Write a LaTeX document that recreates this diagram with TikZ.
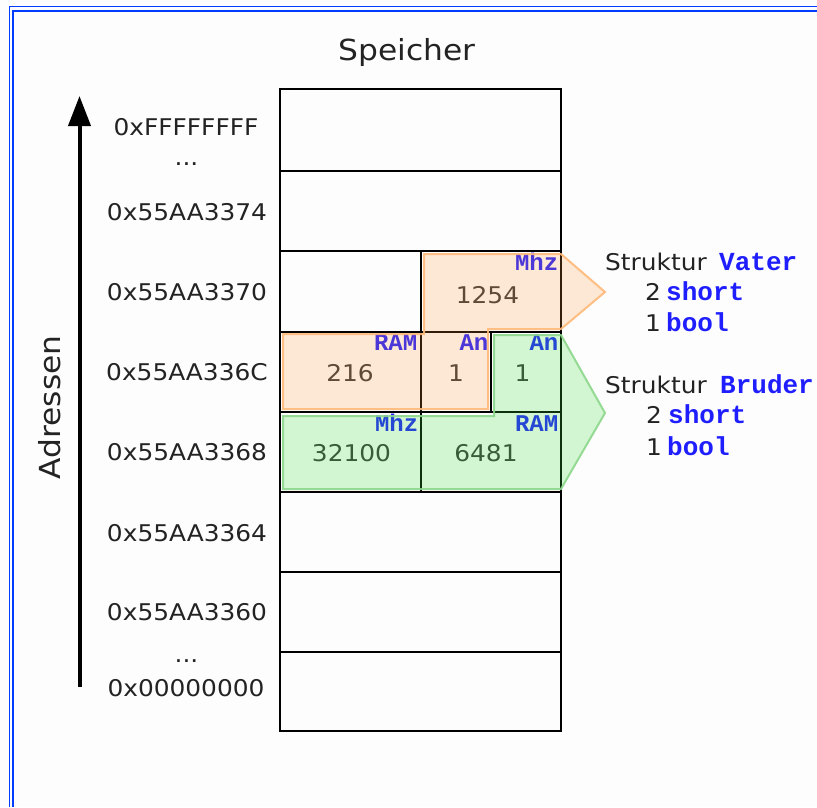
\documentclass[tikz,border=0pt]{standalone}
\usepackage{fontspec}
\usetikzlibrary{arrows.meta}
\newfontfamily\addrfont[FakeStretch=1.08]{DejaVu Sans}
\newfontfamily\monofont{Liberation Mono}
\definecolor{bordblue}{RGB}{0,60,255}
\definecolor{tblue}{RGB}{30,30,255}
\definecolor{txt}{RGB}{35,35,35}
\definecolor{valtxt}{RGB}{55,55,55}
\definecolor{vfill}{RGB}{255,150,60}
\definecolor{vline}{RGB}{255,185,120}
\definecolor{bfill}{RGB}{60,220,60}
\definecolor{bline}{RGB}{140,215,140}
\definecolor{bg}{RGB}{253,253,253}
\begin{document}
\begin{tikzpicture}[x=1pt,y=-1pt,
  addr/.style={inner sep=0pt,anchor=base,font=\addrfont\fontsize{23}{23}\selectfont,text=txt},
  big/.style={inner sep=0pt,anchor=base,font=\addrfont\fontsize{29}{29}\selectfont,text=txt},
  val/.style={inner sep=0pt,anchor=base,font=\addrfont\fontsize{23}{23}\selectfont,text=valtxt},
  fld/.style={inner sep=0pt,anchor=base east,font=\monofont\bfseries\fontsize{24}{24}\selectfont,text=tblue},
  typ/.style={inner sep=0pt,anchor=base west,font=\monofont\bfseries\fontsize{26}{26}\selectfont,text=tblue},
  lbl/.style={inner sep=0pt,anchor=base west,font=\addrfont\fontsize{23}{23}\selectfont,text=txt},
  grid/.style={line width=2pt,black},
  vater/.style={fill=vfill,fill opacity=0.2,draw=vline,draw opacity=0.9,line width=2pt,line join=miter},
  bruder/.style={fill=bfill,fill opacity=0.22,draw=bline,draw opacity=0.9,line width=2pt,line join=miter},
  axis/.style={line width=4pt,-{Triangle[width=22pt,length=30pt]}}
]
\useasboundingbox (0,0) rectangle (817,807);
\fill[bg] (0,0) rectangle (817,807);
% border
\draw[bordblue,line width=1.2pt] (9.5,807) -- (9.5,6.5) -- (817,6.5);
\draw[bordblue,line width=2.6pt] (13,807) -- (13,11) -- (817,11);

% title
\node[big] (title) at (407,60) {Speicher};

% memory grid
\draw[grid] (280,89) rectangle (561,730.5);
\foreach \yy in {170.5,251,331.5,412,492,572,652}
  \draw[grid] (280,\yy) -- (561,\yy);
\draw[grid] (421,251) -- (421,492);
\draw[grid] (491,331.5) -- (491,412);

% axis
\coordinate (abot) at (79.5,687);
\coordinate (atop) at (79.5,96);
\draw[axis] (abot) -- (atop);
\node[big,rotate=90] (adr) at (60,407.5) {Adressen};

% addresses
\node[addr] (a1) at (186,135.5) {0xFFFFFFFF};
\node[addr] (d1) at (186.5,165) {...};
\node[addr] (a2) at (187,220) {0x55AA3374};
\node[addr] (a3) at (187,300) {0x55AA3370};
\node[addr] (a4) at (187,380) {0x55AA336C};
\node[addr] (a5) at (187,460) {0x55AA3368};
\node[addr] (a6) at (187,541.5) {0x55AA3364};
\node[addr] (a7) at (187,620) {0x55AA3360};
\node[addr] (d2) at (186.5,662) {...};
\node[addr] (a8) at (186,696.5) {0x00000000};

% cell contents
\node[fld] (f1) at (558.5,270.7) {Mhz};
\node[val] (v1) at (487.5,303.3) {1254};
\node[fld] (f2) at (417.5,350) {RAM};
\node[val] (v2) at (350,381.7) {216};
\node[fld] (f3) at (488.5,350) {An};
\node[val] (v3) at (456,381.7) {1};
\node[fld] (f4) at (558.5,350) {An};
\node[val] (v4) at (522.5,381.7) {1};
\node[fld] (f5) at (418.5,431.7) {Mhz};
\node[val] (v5) at (351.5,461.7) {32100};
\node[fld] (f6) at (558.5,431.7) {RAM};
\node[val] (v6) at (486,461.7) {6481};

% overlays
\path[vater] (424,254) -- (561,254) -- (605,292) -- (561,329) -- (488,329) -- (488,409)
  -- (283,409) -- (283,334) -- (424,334) -- cycle;
\path[bruder] (494,335) -- (561,335) -- (605,413) -- (561,489) -- (283,489)
  -- (283,416) -- (494,416) -- cycle;

% struct descriptions
\node[lbl] (s1) at (605,270.7) {Struktur};
\node[typ] (t1) at (719,270.7) {Vater};
\node[lbl] (n1) at (645,300) {2};
\node[typ] (t2) at (666,300) {short};
\node[lbl] (n2) at (645,331.7) {1};
\node[typ] (t3) at (666,331.7) {bool};
\node[lbl] (s2) at (605,393.3) {Struktur};
\node[typ] (t4) at (720,393.3) {Bruder};
\node[lbl] (n3) at (646,423.3) {2};
\node[typ] (t5) at (668,423.3) {short};
\node[lbl] (n4) at (646,455) {1};
\node[typ] (t6) at (667,455) {bool};
\end{tikzpicture}
\end{document}
